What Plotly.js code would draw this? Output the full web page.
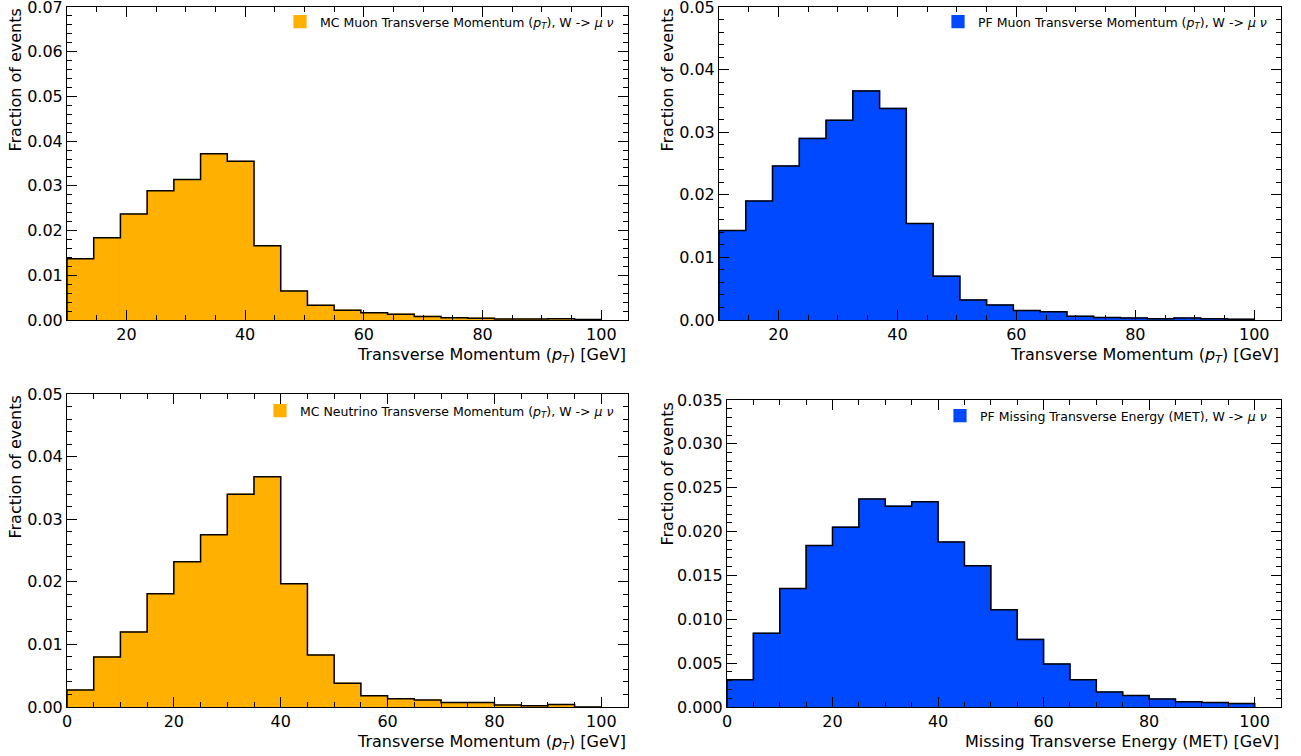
<!DOCTYPE html>
<html>
<head>
<meta charset="utf-8">
<script src="https://cdn.plot.ly/plotly-3.0.1.min.js"></script>
<style>html,body{margin:0;padding:0;background:#fff;}#chart{width:1301px;height:756px;}</style>
</head>
<body>
<div id="chart"></div>
<script>
// ---- data ----
const muonEdges = [10, 14.5, 19, 23.5, 28, 32.5, 37, 41.5, 46, 50.5, 55, 59.5, 64, 68.5, 73, 77.5, 82, 86.5, 91, 95.5, 100];
const fiveEdges = [0, 5, 10, 15, 20, 25, 30, 35, 40, 45, 50, 55, 60, 65, 70, 75, 80, 85, 90, 95, 100];

const mcMuonPt = [0.0137, 0.0184, 0.0237, 0.0289, 0.0314, 0.0372, 0.0355, 0.0166, 0.0065, 0.0033, 0.0022, 0.0016, 0.0013, 0.0008, 0.0005, 0.0004, 0.0002, 0.0002, 0.0003, 0.0001];
const pfMuonPt = [0.0143, 0.0190, 0.0246, 0.0290, 0.0319, 0.0366, 0.0338, 0.0154, 0.0070, 0.0032, 0.0024, 0.0015, 0.0013, 0.0006, 0.0004, 0.0003, 0.0002, 0.0003, 0.0002, 0.0001];
const mcNuPt    = [0.0027, 0.0080, 0.0120, 0.0181, 0.0232, 0.0275, 0.0340, 0.0368, 0.0197, 0.0083, 0.0038, 0.0018, 0.0013, 0.0011, 0.0007, 0.0007, 0.0003, 0.0002, 0.0004, 0.0000];
const pfMet     = [0.0031, 0.0084, 0.0135, 0.0184, 0.0205, 0.0237, 0.0229, 0.0234, 0.0188, 0.0161, 0.0111, 0.0077, 0.0049, 0.0031, 0.0017, 0.0013, 0.0009, 0.0006, 0.0005, 0.0004];

const legendNames = [
  'MC Muon Transverse Momentum (<i>p</i><sub><i>T</i></sub>), W -> <i>μ</i> <i>ν</i>',
  'PF Muon Transverse Momentum (<i>p</i><sub><i>T</i></sub>), W -> <i>μ</i> <i>ν</i>',
  'MC Neutrino Transverse Momentum (<i>p</i><sub><i>T</i></sub>), W -> <i>μ</i> <i>ν</i>',
  'PF Missing Transverse Energy (MET), W -> <i>μ</i> <i>ν</i>'
];
const xTitles = [
  'Transverse Momentum (<i>p</i><sub><i>T</i></sub>) [GeV]',
  'Transverse Momentum (<i>p</i><sub><i>T</i></sub>) [GeV]',
  'Transverse Momentum (<i>p</i><sub><i>T</i></sub>) [GeV]',
  'Missing Transverse Energy (MET) [GeV]'
];
const yTitle = 'Fraction of events';

// ---- styling / layout ----
const ORANGE = '#ffb000';
const BLUE = '#0049ff';
const W = 1301, H = 756;
const EPS = 1e-9;
const panels = [
  {edges: muonEdges, vals: mcMuonPt, color: ORANGE, box: [67, 628, 7, 320],    ytx: 15,  legY: 4, xr: [10, 104.5], yr: [0, 0.07],  dy: 0.01,  my: 0.002, fmt: '.2f'},
  {edges: muonEdges, vals: pfMuonPt, color: BLUE,   box: [719, 1281, 7, 320],  ytx: 667, legY: 4, xr: [10, 104.5], yr: [0, 0.05],  dy: 0.01,  my: 0.002, fmt: '.2f'},
  {edges: fiveEdges, vals: mcNuPt,   color: ORANGE, box: [67, 628, 394, 707],  ytx: 15,  legY: 6, xr: [0, 105],    yr: [0, 0.05],  dy: 0.01,  my: 0.002, fmt: '.2f'},
  {edges: fiveEdges, vals: pfMet,    color: BLUE,   box: [727, 1281, 400, 707], ytx: 667, legY: 5, xr: [0, 105],    yr: [0, 0.035], dy: 0.005, my: 0.001, fmt: '.3f'}
];

const FONT = 'DejaVu Sans, sans-serif';
const traces = [];
const layout = {
  width: W, height: H,
  margin: {l: 0, r: 0, t: 0, b: 0},
  paper_bgcolor: '#fff', plot_bgcolor: '#fff',
  font: {family: FONT, color: '#000', size: 16},
  bargap: 0,
  annotations: [],
  showlegend: true
};

panels.forEach((p, i) => {
  const n = i + 1;
  const xa = n === 1 ? 'x' : 'x' + n;
  const ya = n === 1 ? 'y' : 'y' + n;
  const lg = n === 1 ? 'legend' : 'legend' + n;
  const centers = p.vals.map((v, k) => (p.edges[k] + p.edges[k + 1]) / 2);
  const widths = p.vals.map((v, k) => p.edges[k + 1] - p.edges[k]);
  traces.push({
    type: 'bar', x: centers, y: p.vals, width: widths,
    xaxis: xa, yaxis: ya, legend: lg, name: legendNames[i],
    marker: {color: p.color, line: {color: p.color, width: 1.2}},
    hoverinfo: 'skip', showlegend: true
  });
  const sx = [p.edges[0]], sy = [0];
  p.vals.forEach((v, k) => { sx.push(p.edges[k]); sy.push(v); });
  sx.push(p.edges[p.edges.length - 1]); sy.push(p.vals[p.vals.length - 1]);
  sx.push(p.edges[p.edges.length - 1]); sy.push(0);
  traces.push({
    type: 'scatter', mode: 'lines', x: sx, y: sy,
    line: {shape: 'hv', color: '#000', width: 1.5},
    xaxis: xa, yaxis: ya, showlegend: false, hoverinfo: 'skip'
  });

  const [l, r, t, b] = p.box;
  const common = {
    showline: true, linecolor: '#000', linewidth: 1, mirror: 'allticks',
    ticks: 'inside', ticklen: 10, tickwidth: 1, tickcolor: '#000',
    showgrid: false, zeroline: false, fixedrange: true,
    ticklabeloverflow: 'allow',
    tickfont: {family: FONT, size: 16, color: '#000'}
  };
  layout['xaxis' + (n === 1 ? '' : n)] = Object.assign({}, common, {
    domain: [l / W, r / W], anchor: ya, range: p.xr,
    tick0: 0, dtick: 20,
    minor: {dtick: 5, tick0: 0, ticks: 'inside', ticklen: 5, tickwidth: 1, tickcolor: '#000'}
  });
  layout['yaxis' + (n === 1 ? '' : n)] = Object.assign({}, common, {
    domain: [1 - b / H, 1 - t / H], anchor: xa, range: [p.yr[0], p.yr[1] + EPS],
    tick0: 0, dtick: p.dy, tickformat: p.fmt,
    minor: {dtick: p.my, tick0: 0, ticks: 'inside', ticklen: 5, tickwidth: 1, tickcolor: '#000'}
  });
  layout[lg] = {
    x: (r - 9) / W, xanchor: 'right', y: 1 - (t + p.legY - 4) / H, yanchor: 'top',
    bgcolor: 'rgba(0,0,0,0)', borderwidth: 0,
    font: {family: FONT, size: 12.5, color: '#000'}
  };
  layout.annotations.push({
    text: xTitles[i], xref: xa + ' domain', yref: ya + ' domain',
    x: 1, y: 0, xanchor: 'right', yanchor: 'top', yshift: -23,
    showarrow: false, font: {family: FONT, size: 16, color: '#000'}
  });
  layout.annotations.push({
    text: yTitle, xref: xa + ' domain', yref: ya + ' domain',
    x: 0, y: 1, xanchor: 'center', yanchor: 'top', xshift: -(l - p.ytx), textangle: -90,
    showarrow: false, font: {family: FONT, size: 16, color: '#000'}
  });
});

Plotly.newPlot('chart', traces, layout, {displayModeBar: false, staticPlot: true});
</script>
</body>
</html>
